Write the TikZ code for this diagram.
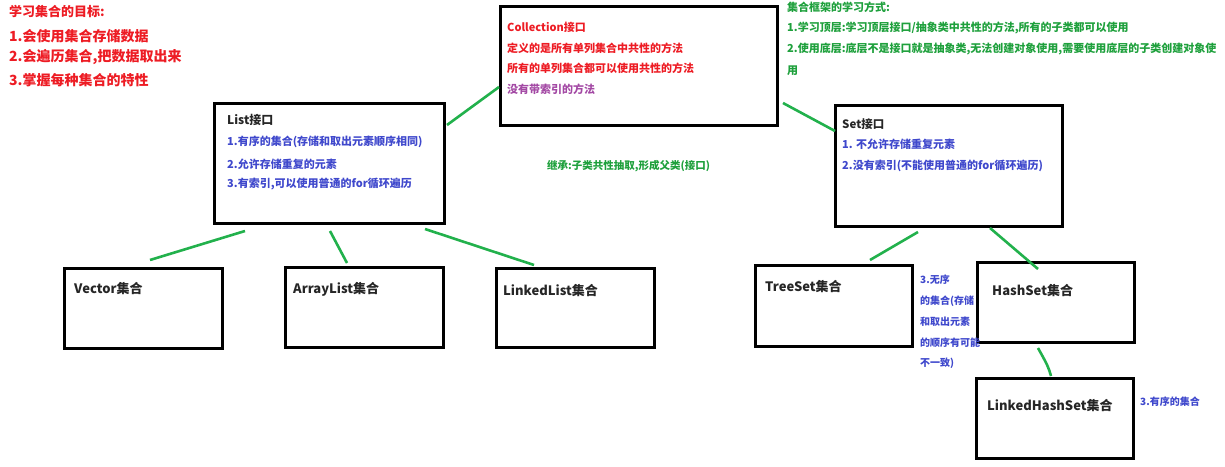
\documentclass[tikz,border=0pt]{standalone}
\usepackage{fontspec}
\setmainfont{Noto Sans CJK SC}
\definecolor{pgreen}{RGB}{34,177,76}
\definecolor{pred}{RGB}{237,28,36}
\definecolor{pblue}{RGB}{63,72,204}
\definecolor{ppurple}{RGB}{163,73,164}
\definecolor{tgreen}{RGB}{30,160,60}
\begin{document}
\begin{tikzpicture}[x=1pt,y=-1pt,
  box/.style={draw=black,line width=2.6pt,anchor=north west,inner sep=0pt,outer sep=0pt},
  txt/.style={anchor=west,inner sep=0pt,font=\bfseries\fontsize{11}{13}\selectfont},
  title/.style={anchor=west,inner sep=0pt,font=\bfseries\fontsize{13}{15}\selectfont,text=black!85},
  goal/.style={anchor=west,inner sep=0pt,font=\bfseries\fontsize{14}{16}\selectfont,text=pred},
  note/.style={anchor=west,inner sep=0pt,font=\bfseries\fontsize{10}{12}\selectfont,text=pblue},
  conn/.style={draw=pgreen,line width=2.6pt}]
\useasboundingbox (0,0) rectangle (1225,466);
% goals
\node[goal,font=\bfseries\fontsize{13}{15}\selectfont] (g0) at (9,11) {学习集合的目标:};
\node[goal] (g1) at (9,36) {1.会使用集合存储数据};
\node[goal] (g2) at (9,57) {2.会遍历集合,把数据取出来};
\node[goal] (g3) at (9,80) {3.掌握每种集合的特性};
% boxes (path inset by half the line width)
\node[box,minimum width=277,minimum height=119] (coll) at (500.3,6.3) {};
\node[box,minimum width=230,minimum height=120] (list) at (214.3,103.3) {};
\node[box,minimum width=227,minimum height=121] (set) at (835.3,105.3) {};
\node[box,minimum width=158,minimum height=80] (vec) at (64.3,268.3) {};
\node[box,minimum width=158,minimum height=80] (arr) at (285.3,267.3) {};
\node[box,minimum width=158,minimum height=79] (lnk) at (496.3,268.3) {};
\node[box,minimum width=157,minimum height=81] (tree) at (755.3,265.3) {};
\node[box,minimum width=157,minimum height=80] (hash) at (977.3,262.3) {};
\node[box,minimum width=157,minimum height=80] (lhs) at (976.3,378.3) {};
% collection text
\node[txt,text=pred] (c0) at (507,27) {Collection接口};
\node[txt,text=pred] (c1) at (507,48) {定义的是所有单列集合中共性的方法};
\node[txt,text=pred] (c2) at (507,68) {所有的单列集合都可以使用共性的方法};
\node[txt,text=ppurple] (c3) at (507,89) {没有带索引的方法};
% top right green text
\begin{scope}[every node/.append style={font=\bfseries\fontsize{10.6}{13}\selectfont}]
\node[txt,text=tgreen] (m0) at (787,7) {集合框架的学习方式:};
\node[txt,text=tgreen] (m1) at (787,28) {1.学习顶层:学习顶层接口/抽象类中共性的方法,所有的子类都可以使用};
\node[txt,text=tgreen] (m2) at (787,49) {2.使用底层:底层不是接口就是抽象类,无法创建对象使用,需要使用底层的子类创建对象使};
\node[txt,text=tgreen] (m3) at (787,71) {用};
\end{scope}
% list text
\node[title,font=\bfseries\fontsize{12}{14}\selectfont] (l0) at (227,120) {List接口};
\node[txt,text=pblue] (l1) at (227,142) {1.有序的集合(存储和取出元素顺序相同)};
\node[txt,text=pblue] (l2) at (227,164) {2.允许存储重复的元素};
\node[txt,text=pblue] (l3) at (227,184) {3.有索引,可以使用普通的for循环遍历};
% inheritance note
\node[txt,text=tgreen,font=\bfseries\fontsize{10.5}{12}\selectfont] (inh) at (547,166) {继承:子类共性抽取,形成父类(接口)};
% set text
\node[title,font=\bfseries\fontsize{11.5}{14}\selectfont] (s0) at (842,124) {Set接口};
\node[txt,text=pblue] (s1) at (842,144) {1. 不允许存储重复元素};
\node[txt,text=pblue] (s2) at (842,166) {2.没有索引(不能使用普通的for循环遍历)};
% leaf titles
\node[title] (vt) at (74,289) {Vector集合};
\node[title] (at) at (293,289) {ArrayList集合};
\node[title] (lt) at (503,291) {LinkedList集合};
\node[title] (tt) at (765,287) {TreeSet集合};
\node[title] (ht) at (992,291) {HashSet集合};
\node[title] (lht) at (987,406) {LinkedHashSet集合};
% notes
\node[note] (n1) at (920,280) {3.无序};
\node[note] (n2) at (920,301) {的集合(存储};
\node[note] (n3) at (920,322) {和取出元素};
\node[note] (n4) at (920,343) {的顺序有可能};
\node[note] (n5) at (920,363) {不一致)};
\node[note] (n6) at (1140,402) {3.有序的集合};
% connector end points
\coordinate (cl1) at (447,125); \coordinate (cl2) at (499,87);
\coordinate (cs1) at (783,103); \coordinate (cs2) at (835,131);
\coordinate (lv1) at (245,231); \coordinate (lv2) at (150,260);
\coordinate (la1) at (330,231); \coordinate (la2) at (347,263);
\coordinate (ll1) at (425,229); \coordinate (ll2) at (534,265);
\coordinate (st1) at (918,232); \coordinate (st2) at (870,260);
\coordinate (sh1) at (990,228); \coordinate (sh2) at (1038,269);
\coordinate (hl1) at (1038,348); \coordinate (hl2) at (1051,376);
\draw[conn] (cl1) -- (cl2);
\draw[conn] (cs1) -- (cs2);
\draw[conn] (lv1) -- (lv2);
\draw[conn] (la1) -- (la2);
\draw[conn] (ll1) -- (ll2);
\draw[conn] (st1) -- (st2);
\draw[conn] (sh1) -- (sh2);
\draw[conn] (hl1) .. controls (1048,366) .. (hl2);
\end{tikzpicture}
\end{document}
